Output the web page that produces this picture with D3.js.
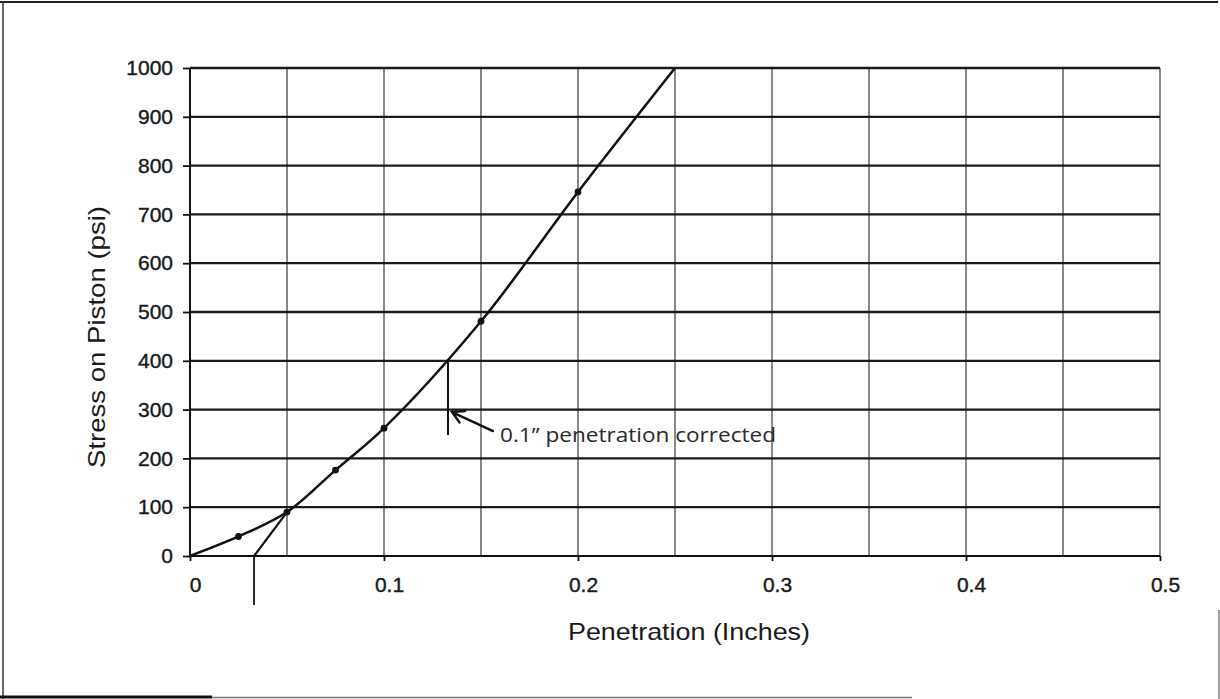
<!DOCTYPE html>
<html>
<head>
<meta charset="utf-8">
<script src="https://cdn.jsdelivr.net/npm/d3@7"></script>
<style>
  body { margin: 0; background: #fff; }
  svg { display: block; }
  .tick text { font-family: "Liberation Sans", Arial, sans-serif; }
</style>
</head>
<body>
<div id="chart"></div>
<script>
// test data: penetration (in) vs stress on piston (psi)
var penetration = [0, 0.025, 0.05, 0.075, 0.1, 0.15, 0.2, 0.25];
var stress = [0, 40, 90, 176, 262, 481, 746, 1000];

// corrected zero (tangent) and the corrected 0.1" reading
var tangentX = [0.033, 0.05];
var tangentY = [0, 90];
var correctedX = 0.133;
var correctedY = [400, 248];

var xTicks = [0, 0.1, 0.2, 0.3, 0.4, 0.5];
var xTickLabels = ["0", "0.1", "0.2", "0.3", "0.4", "0.5"];
var xGrid = [0.05, 0.1, 0.15, 0.2, 0.25, 0.3, 0.35, 0.4, 0.45, 0.5];
var yTicks = [0, 100, 200, 300, 400, 500, 600, 700, 800, 900, 1000];

var svgWidth = 1220;
var svgHeight = 699;

var margin = { top: 68, right: 60, bottom: 143, left: 190 };
var width = svgWidth - margin.left - margin.right;
var height = svgHeight - margin.top - margin.bottom;

var svg = d3.select("#chart")
  .append("svg")
  .attr("width", svgWidth)
  .attr("height", svgHeight);

// scanned page frame
svg.append("line").attr("x1", 0).attr("x2", 1218).attr("y1", 2).attr("y2", 2)
  .attr("stroke", "#222").attr("stroke-width", 2);
svg.append("line").attr("x1", 3).attr("x2", 3).attr("y1", 2).attr("y2", 699)
  .attr("stroke", "#333").attr("stroke-width", 1.5);
svg.append("line").attr("x1", 0).attr("x2", 212).attr("y1", 697).attr("y2", 697)
  .attr("stroke", "#111").attr("stroke-width", 3);
svg.append("line").attr("x1", 212).attr("x2", 912).attr("y1", 697.5).attr("y2", 697.5)
  .attr("stroke", "#777").attr("stroke-width", 1.5);
svg.append("line").attr("x1", 1219).attr("x2", 1219).attr("y1", 610).attr("y2", 699)
  .attr("stroke", "#555").attr("stroke-width", 1.2);

var chartGroup = svg.append("g")
  .attr("transform", `translate(${margin.left}, ${margin.top})`);

var xLinearScale = d3.scaleLinear().domain([0, 0.5]).range([0, width]);
var yLinearScale = d3.scaleLinear().domain([0, 1000]).range([height, 0]);

// vertical grid (lighter)
chartGroup.append("g")
  .selectAll("line")
  .data(xGrid)
  .enter()
  .append("line")
  .attr("x1", d => xLinearScale(d))
  .attr("x2", d => xLinearScale(d))
  .attr("y1", 0)
  .attr("y2", height)
  .attr("stroke", "#555")
  .attr("stroke-width", 1.4);

// horizontal grid (darker)
chartGroup.append("g")
  .selectAll("line")
  .data(yTicks.slice(1))
  .enter()
  .append("line")
  .attr("x1", 0)
  .attr("x2", width)
  .attr("y1", d => yLinearScale(d))
  .attr("y2", d => yLinearScale(d))
  .attr("stroke", "#1a1a1a")
  .attr("stroke-width", 2.3);

// axes
var bottomAxis = d3.axisBottom(xLinearScale)
  .tickValues(xTicks)
  .tickFormat((d, i) => xTickLabels[i])
  .tickSize(5)
  .tickPadding(16);
var leftAxis = d3.axisLeft(yLinearScale)
  .tickValues(yTicks)
  .tickFormat(d3.format("d"))
  .tickSize(7)
  .tickPadding(10);

var xAxis = chartGroup.append("g")
  .attr("transform", `translate(0, ${height})`)
  .call(bottomAxis);
var yAxis = chartGroup.append("g")
  .call(leftAxis);

[xAxis, yAxis].forEach(function (ax) {
  ax.select(".domain").attr("stroke", "#111").attr("stroke-width", 2);
  ax.selectAll(".tick line").attr("stroke", "#111").attr("stroke-width", 1.8);
  ax.selectAll(".tick text")
    .attr("fill", "#1a1a1a")
    .attr("stroke", "#1a1a1a")
    .attr("stroke-width", 0.4)
    .attr("font-size", 21);
});
xAxis.selectAll(".tick text").attr("dx", 5);
xAxis.select(".domain").attr("d", `M0,0H${width}`);
yAxis.select(".domain").attr("d", `M0,0V${height}`);

// stress curve
var lineData = penetration.map((p, i) => ({ x: p, y: stress[i] }));

var line = d3.line()
  .x(d => xLinearScale(d.x))
  .y(d => yLinearScale(d.y))
  .curve(d3.curveCatmullRom.alpha(0.5));

chartGroup.append("path")
  .datum(lineData)
  .attr("d", line)
  .attr("fill", "none")
  .attr("stroke", "#111")
  .attr("stroke-width", 2.5);

chartGroup.selectAll("circle")
  .data(lineData.filter(d => d.x > 0 && d.y < 1000))
  .enter()
  .append("circle")
  .attr("cx", d => xLinearScale(d.x))
  .attr("cy", d => yLinearScale(d.y))
  .attr("r", 3.4)
  .attr("fill", "#111");

// tangent for corrected zero
var tangentData = tangentX.map((p, i) => ({ x: p, y: tangentY[i] }));
chartGroup.append("path")
  .datum(tangentData)
  .attr("d", d3.line().x(d => xLinearScale(d.x)).y(d => yLinearScale(d.y)))
  .attr("fill", "none")
  .attr("stroke", "#111")
  .attr("stroke-width", 2.2);

// tick below the axis at the corrected zero
chartGroup.append("line")
  .attr("x1", xLinearScale(tangentX[0]))
  .attr("x2", xLinearScale(tangentX[0]))
  .attr("y1", height)
  .attr("y2", height + 49)
  .attr("stroke", "#111")
  .attr("stroke-width", 1.8);

// corrected 0.1" line
chartGroup.append("line")
  .attr("x1", xLinearScale(correctedX))
  .attr("x2", xLinearScale(correctedX))
  .attr("y1", yLinearScale(correctedY[0]))
  .attr("y2", yLinearScale(correctedY[1]))
  .attr("stroke", "#111")
  .attr("stroke-width", 2);

// arrow + label
var tipX = xLinearScale(correctedX) + 4;
var tipY = yLinearScale(295);
chartGroup.append("path")
  .attr("d", `M${tipX + 41},${tipY + 19}L${tipX},${tipY}M${tipX + 13},${tipY - 1}L${tipX},${tipY}L${tipX + 7.5},${tipY + 10.5}`)
  .attr("fill", "none")
  .attr("stroke", "#111")
  .attr("stroke-width", 2.4)
  .attr("stroke-linecap", "round");

chartGroup.append("text")
  .attr("x", tipX + 48)
  .attr("y", tipY + 30)
  .attr("font-family", "'Open Sans', 'Noto Sans', sans-serif")
  .attr("font-size", 20)
  .attr("fill", "#2a2a2a")
  .attr("textLength", 276)
  .attr("lengthAdjust", "spacingAndGlyphs")
  .text("0.1\u201D penetration corrected");

// axis titles
chartGroup.append("text")
  .attr("x", 568 - margin.left)
  .attr("y", height + 84)
  .attr("font-family", "'Liberation Sans', Arial, sans-serif")
  .attr("font-size", 24)
  .attr("fill", "#1a1a1a")
  .attr("textLength", 242)
  .attr("lengthAdjust", "spacingAndGlyphs")
  .text("Penetration (Inches)");

chartGroup.append("text")
  .attr("transform", "rotate(-90)")
  .attr("x", 0 - (468 - margin.top))
  .attr("y", 0 - 85)
  .attr("font-family", "'Liberation Sans', Arial, sans-serif")
  .attr("font-size", 24)
  .attr("fill", "#1a1a1a")
  .attr("textLength", 262)
  .attr("lengthAdjust", "spacingAndGlyphs")
  .text("Stress on Piston (psi)");
</script>
</body>
</html>
